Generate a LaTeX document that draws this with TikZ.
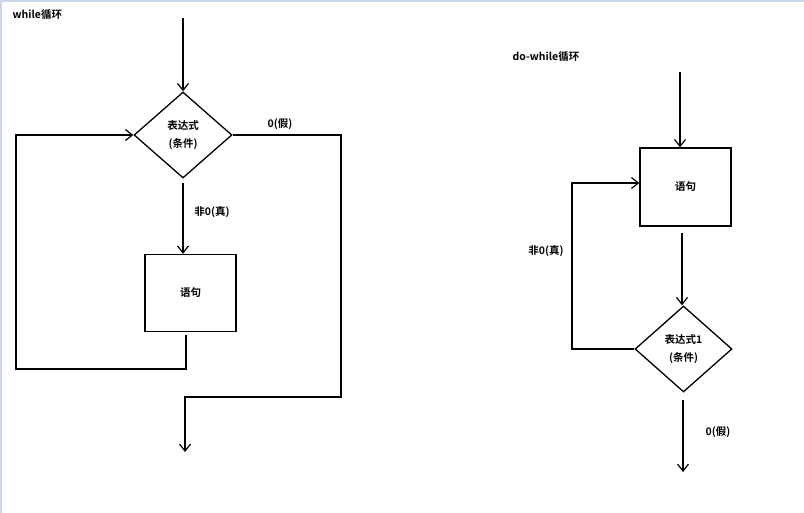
\documentclass[tikz,border=0pt]{standalone}
\usepackage{fontspec}
\setmainfont{Noto Sans CJK SC}[BoldFont={* Bold}]
\usetikzlibrary{shapes.geometric,arrows.meta}
\definecolor{edgeblue}{HTML}{C9D5E8}
\begin{document}
\begin{tikzpicture}[x=1pt,y=-1pt,
  line width=1.3pt,
  every node/.style={font=\bfseries\fontsize{10.5}{18}\selectfont},
  decision/.style={draw,diamond,minimum width=98pt,minimum height=86pt,inner sep=0pt,align=center},
  stmt/.style={draw,rectangle,minimum width=91pt,minimum height=77pt,inner sep=0pt},
  flow/.style={-{Straight Barb[length=7pt,width=11pt,line width=1.2pt]}},
  lbl/.style={inner sep=0pt}]
\useasboundingbox (0,0) rectangle (804,513);
\fill[white] (0,0) rectangle (804,513);
\fill[edgeblue] (0,0) rectangle (804,2);
\fill[edgeblue] (0,0) rectangle (2,513);

% ---- while ----
\node[lbl,anchor=west] (t1) at (12,15) {while循环};
\coordinate (s1) at (183,18);
\node[decision] (d1) at (183,135) {表达式\\(条件)};
\node[stmt] (b1) at (190.5,293) {语句};
\draw[flow] (s1) -- (d1.north);
\draw[flow] ([yshift=-4pt]d1.south) -- (d1.south |- b1.north);
\node[lbl] (l1) at (212,212) {非0(真)};
\coordinate (c1) at (186,335);
\coordinate (c2) at (186,369);
\coordinate (c3) at (16,369);
\coordinate (c4) at (16,135);
\draw[flow] (c1) -- (c2) -- (c3) -- (c4) -- (d1.west);
\coordinate (e1) at (341,135);
\coordinate (e2) at (341,397);
\coordinate (e3) at (185,397);
\coordinate (e4) at (185,452);
\draw[flow] (d1.east) -- (e1) -- (e2) -- (e3) -- (e4);
\node[lbl] (l2) at (280,124) {0(假)};

% ---- do-while ----
\node[lbl,anchor=west] (t2) at (512,57) {do-while循环};
\coordinate (s2) at (680,72);
\node[stmt,minimum height=78pt] (b2) at (685.5,187) {语句};
\draw[flow] (s2) -- (s2 |- b2.north);
\node[decision,minimum width=97pt] (d2) at (683.5,349) {表达式1\\(条件)};
\coordinate (f1) at (682,233);
\draw[flow] (f1) -- (f1 |- d2.north);
\coordinate (g1) at (572,349);
\coordinate (g2) at (572,183);
\draw[flow] (d2.west) -- (g1) -- (g2) -- (b2.west |- g2);
\node[lbl] (l3) at (546,251) {非0(真)};
\coordinate (h1) at (683,400);
\coordinate (h2) at (683,472);
\draw[flow] (h1) -- (h2);
\node[lbl] (l4) at (718,432) {0(假)};
\end{tikzpicture}
\end{document}
